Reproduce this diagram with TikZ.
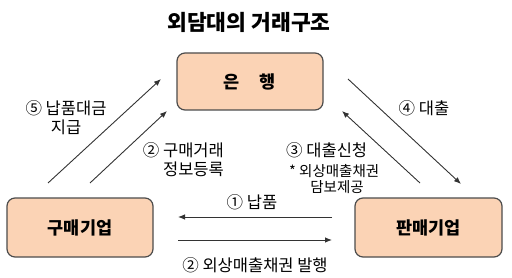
\documentclass[tikz,border=0pt]{standalone}
\usepackage{fontspec}
\setmainfont{Noto Sans CJK KR}
\usetikzlibrary{arrows.meta}
\begin{document}
\begin{tikzpicture}[x=1pt,y=-1pt,
  box/.style={draw=black!70,line width=1.2pt,fill=peach,rounded corners=8pt,inner sep=0pt},
  arr/.style={draw=black!80,line width=0.9pt,-{Latex[length=7pt,width=5.5pt]}},
  lbl/.style={font=\fontsize{16.5}{19}\selectfont,inner sep=0pt},
  sml/.style={font=\fontsize{14.5}{17}\selectfont,inner sep=0pt},
  boxtxt/.style={font=\bfseries\fontsize{17.5}{20}\selectfont}]
\definecolor{peach}{HTML}{FBD3B5}
\useasboundingbox (0,0) rectangle (512,278);
\node[font=\bfseries\fontsize{21.5}{25}\selectfont] (title) at (249,22) {외담대의 거래구조};
\node[box,minimum width=146pt,minimum height=57pt,boxtxt] (bank) at (250,81.5) {은\hspace{20pt}행};
\node[box,minimum width=146pt,minimum height=59pt,boxtxt] (buyer) at (80,227.5) {구매기업};
\node[box,minimum width=147pt,minimum height=59pt,boxtxt] (seller) at (428.5,227.5) {판매기업};
% arrow endpoints
\coordinate (a5s) at (48,183); \coordinate (a5e) at (161,79);
\coordinate (a2s) at (90,183); \coordinate (a2e) at (167,111);
\coordinate (a3s) at (420,183); \coordinate (a3e) at (342,111);
\coordinate (a4s) at (348,79); \coordinate (a4e) at (461,184);
\coordinate (h1s) at (332,217); \coordinate (h1e) at (178,217);
\coordinate (h2s) at (178,240); \coordinate (h2e) at (332,240);
\draw[arr] (a5s) -- (a5e);
\draw[arr] (a2s) -- (a2e);
\draw[arr] (a3s) -- (a3e);
\draw[arr] (a4s) -- (a4e);
\draw[arr] (h1s) -- (h1e);
\draw[arr] (h2s) -- (h2e);
% labels
\node[lbl,align=center] (l5) at (66,118) {⑤ 납품대금\\지급};
\node[lbl] (l4) at (424,108) {④ 대출};
\node[lbl,align=right,anchor=east] (l2a) at (224,159.5) {② 구매거래\\정보등록};
\node[lbl,anchor=west] (l3) at (286,150) {③ 대출신청};
\node[sml,anchor=west] (l3b) at (289,171) {* 외상매출채권};
\node[sml] (l3c) at (337,187) {담보제공};
\node[lbl] (l1) at (252,202) {① 납품};
\node[lbl] (l2b) at (255,265) {② 외상매출채권 발행};
\end{tikzpicture}
\end{document}
